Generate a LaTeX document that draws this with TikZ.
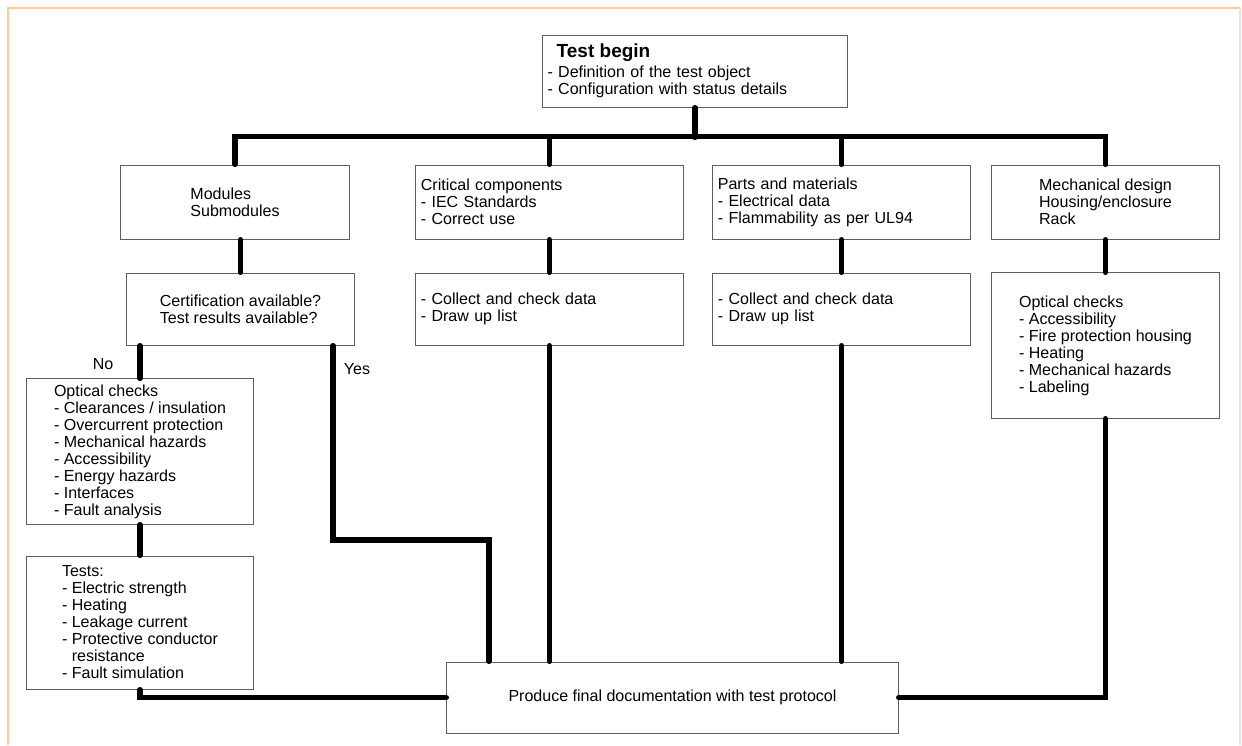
\documentclass[tikz,border=0pt]{standalone}
\usepackage{fontspec}
\setmainfont{Liberation Sans}
\usetikzlibrary{calc}
\definecolor{frameorange}{HTML}{FBCB98}
\definecolor{edge}{HTML}{5F5F5F}
\definecolor{rim}{HTML}{E4E4E4}
\tikzset{
  box/.style={draw=edge, line width=0.7pt, font=\fontsize{11.4}{12.1}\selectfont, align=left, inner xsep=3.5pt, inner ysep=2pt},
  link/.style={draw=black, line width=3.6pt, line cap=round},
  frame/.style={draw=frameorange, line width=1.9pt},
  lbl/.style={font=\fontsize{11.4}{12.1}\selectfont}
}

\begin{document}
\begin{tikzpicture}[x=0.025cm, y=-0.025cm]
  \useasboundingbox (0,0) rectangle (1242,745);
  \draw[frame] (8,745) -- (8,8) -- (1240,8);
  \draw[draw=rim, line width=0.8pt] (1240,8) -- (1240,745);

  % start of the test
  \node[box, text width=7.37cm, minimum height=1.8cm] (begin) at (695,71)
    {\hspace*{6.5pt}{\fontsize{13.5}{15}\selectfont\bfseries Test begin}\\[2pt]- Definition of the test object\\- Configuration with status details};

  % first row
  \node[box, minimum width=5.7cm, minimum height=1.85cm] (modules) at (235,202) {Modules\\Submodules};
  \node[box, text width=6.43cm, minimum height=1.85cm] (critical) at (549.5,202) {Critical components\\- IEC Standards\\- Correct use};
  \node[box, text width=6.18cm, minimum height=1.85cm] (parts) at (841.5,202) {Parts and materials\\- Electrical data\\- Flammability as per UL94};
  \node[box, minimum width=5.675cm, minimum height=1.85cm] (mech) at (1105.5,202) {Mechanical design\\Housing/enclosure\\Rack};

  % second row
  \node[box, minimum width=5.675cm, minimum height=1.8cm] (cert) at (240.5,309) {Certification available?\\Test results available?};
  \node[box, text width=6.43cm, minimum height=1.8cm] (collectA) at (549.5,309) {- Collect and check data\\- Draw up list};
  \node[box, text width=6.18cm, minimum height=1.8cm] (collectB) at (841.5,309) {- Collect and check data\\- Draw up list};
  \node[box, minimum width=5.675cm, minimum height=3.625cm] (opticR) at (1105.5,345.5)
    {Optical checks\\- Accessibility\\- Fire protection housing\\- Heating\\- Mechanical hazards\\- Labeling};

  % no branch
  \node[box, minimum width=5.65cm, minimum height=3.625cm] (opticL) at (140,451.5)
    {Optical checks\\- Clearances / insulation\\- Overcurrent protection\\- Mechanical hazards\\- Accessibility\\- Energy hazards\\- Interfaces\\- Fault analysis};
  \node[box, minimum width=5.65cm, minimum height=3.325cm] (tests) at (140,622.5)
    {Tests:\\- Electric strength\\- Heating\\- Leakage current\\- Protective conductor\\\phantom{- }resistance\\- Fault simulation};

  % end
  \node[box, minimum width=11.275cm, minimum height=1.775cm] (final) at (672.5,697.5) {Produce final documentation with test protocol};

  \node[lbl] (no) at (103,364) {No};
  \node[lbl] (yes) at (357,369) {Yes};

  \coordinate (yesdrop) at (333,540);
  \coordinate (yesbend) at (489,540);

  % connectors
  \draw[link] (begin.south) -- ++(0,30);
  \draw[link] (modules.north) -- ++(0,-28) -| (mech.north);
  \draw[link] (critical.north) -- ++(0,-28);
  \draw[link] (parts.north) -- ++(0,-28);
  \draw[link] (cert.north |- modules.south) -- (cert.north);
  \draw[link] (critical) -- (collectA);
  \draw[link] (parts) -- (collectB);
  \draw[link] (mech) -- (opticR);
  \draw[link] (opticL.north |- cert.south) -- (opticL.north);
  \draw[link] (opticL) -- (tests);
  \draw[link] (cert.south -| yesdrop) -- (yesdrop) -- (yesbend) -- (yesbend |- final.north);
  \draw[link] (collectA) -- (collectA |- final.north);
  \draw[link] (collectB) -- (collectB |- final.north);
  \draw[link] (tests.south) |- (final.west);
  \draw[link] (final.east) -| (opticR.south);
\end{tikzpicture}
\end{document}
